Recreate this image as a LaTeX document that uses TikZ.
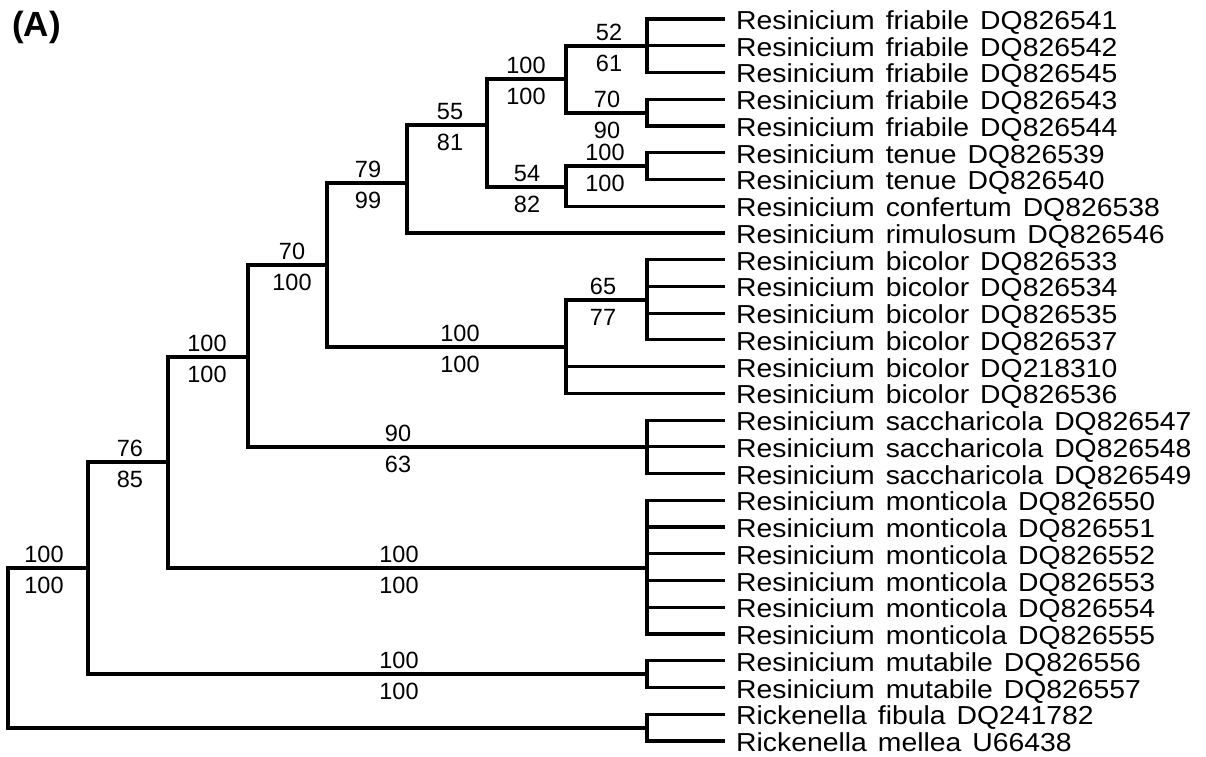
\documentclass[tikz,border=0pt]{standalone}
\usepackage{fontspec}
\setmainfont{Liberation Sans}
\newfontfamily\labfont[FakeStretch=1.09,WordSpace=1.4]{Liberation Sans}
\newcommand\bsup[5]{%
  \node[num] (#1a) at (#2, #3-6) {#4};
  \node[num] (#1b) at (#2, #3+25) {#5};}
\begin{document}
\begin{tikzpicture}[x=1pt,y=-1pt,
  br/.style={line width=3.2pt, line join=miter},
  num/.style={font=\fontsize{23.5}{24}\selectfont, inner sep=0pt, anchor=base},
  leaf/.style={font=\labfont\fontsize{26}{26}\selectfont, inner sep=0pt, anchor=base west}]
\useasboundingbox (0,0) rectangle (1206,756);
\node[font=\bfseries\fontsize{35}{35}\selectfont, inner sep=0pt, anchor=base west] (title) at (12,36) {(A)};
% leaves
\foreach \i/\t in {
 0/{Resinicium friabile DQ826541},
 1/{Resinicium friabile DQ826542},
 2/{Resinicium friabile DQ826545},
 3/{Resinicium friabile DQ826543},
 4/{Resinicium friabile DQ826544},
 5/{Resinicium tenue DQ826539},
 6/{Resinicium tenue DQ826540},
 7/{Resinicium confertum DQ826538},
 8/{Resinicium rimulosum DQ826546},
 9/{Resinicium bicolor DQ826533},
 10/{Resinicium bicolor DQ826534},
 11/{Resinicium bicolor DQ826535},
 12/{Resinicium bicolor DQ826537},
 13/{Resinicium bicolor DQ218310},
 14/{Resinicium bicolor DQ826536},
 15/{Resinicium saccharicola DQ826547},
 16/{Resinicium saccharicola DQ826548},
 17/{Resinicium saccharicola DQ826549},
 18/{Resinicium monticola DQ826550},
 19/{Resinicium monticola DQ826551},
 20/{Resinicium monticola DQ826552},
 21/{Resinicium monticola DQ826553},
 22/{Resinicium monticola DQ826554},
 23/{Resinicium monticola DQ826555},
 24/{Resinicium mutabile DQ826556},
 25/{Resinicium mutabile DQ826557},
 26/{Rickenella fibula DQ241782},
 27/{Rickenella mellea U66438}} {
  \coordinate (L\i) at (725, 19+\i*26.74);
  \node[leaf] (T\i) at (736, 19+\i*26.74+10.5) {\t};
}
% internal nodes
\coordinate (root) at (8,648);
\coordinate (nR) at (88,568);
\coordinate (nRick) at (647,728);
\coordinate (n76) at (168,462);
\coordinate (nMut) at (647,674);
\coordinate (nA) at (248,357);
\coordinate (nMont) at (647,568);
\coordinate (n70) at (327,265);
\coordinate (nSac) at (647,447);
\coordinate (n79) at (407,183);
\coordinate (nBic) at (566,347);
\coordinate (n55) at (487,125);
\coordinate (nFri) at (566,79);
\coordinate (n54) at (566,187);
\coordinate (n52) at (647,46);
\coordinate (n70b) at (647,113);
\coordinate (nTen) at (647,166);
\coordinate (n65) at (647,300);
% branches
\draw[br] (root) |- (nR);
\draw[br] (root) |- (nRick);
\draw[br] (nR) |- (n76);
\draw[br] (nR) |- (nMut);
\draw[br] (n76) |- (nA);
\draw[br] (n76) |- (nMont);
\draw[br] (nA) |- (n70);
\draw[br] (nA) |- (nSac);
\draw[br] (n70) |- (n79);
\draw[br] (n70) |- (nBic);
\draw[br] (n79) |- (n55);
\draw[br] (n79) |- (L8);
\draw[br] (n55) |- (nFri);
\draw[br] (n55) |- (n54);
\draw[br] (nFri) |- (n52);
\draw[br] (nFri) |- (n70b);
\draw[br] (n54) |- (nTen);
\draw[br] (n54) |- (L7);
\draw[br] (nBic) |- (n65);
\draw[br] (nBic) |- (L13);
\draw[br] (nBic) |- (L14);
\foreach \p/\c in {n52/0,n52/1,n52/2,n70b/3,n70b/4,nTen/5,nTen/6,
  n65/9,n65/10,n65/11,n65/12,nSac/15,nSac/16,nSac/17,
  nMont/18,nMont/19,nMont/20,nMont/21,nMont/22,nMont/23,
  nMut/24,nMut/25,nRick/26,nRick/27}{
  \draw[br] (\p) |- (L\c);
}
% support values
\bsup{s1}{44}{568}{100}{100}
\bsup{s2}{130}{462}{76}{85}
\bsup{s3}{207}{357}{100}{100}
\bsup{s4}{292}{265}{70}{100}
\bsup{s5}{368}{183}{79}{99}
\bsup{s6}{450}{125}{55}{81}
\bsup{s7}{526}{79}{100}{100}
\bsup{s8}{609}{46}{52}{61}
\bsup{s9}{607}{113}{70}{90}
\bsup{s10}{527}{187}{54}{82}
\bsup{s11}{605}{166}{100}{100}
\bsup{s12}{460}{347}{100}{100}
\bsup{s13}{603}{300}{65}{77}
\bsup{s14}{398}{447}{90}{63}
\bsup{s15}{399}{568}{100}{100}
\bsup{s16}{399}{674}{100}{100}
\end{tikzpicture}
\end{document}
